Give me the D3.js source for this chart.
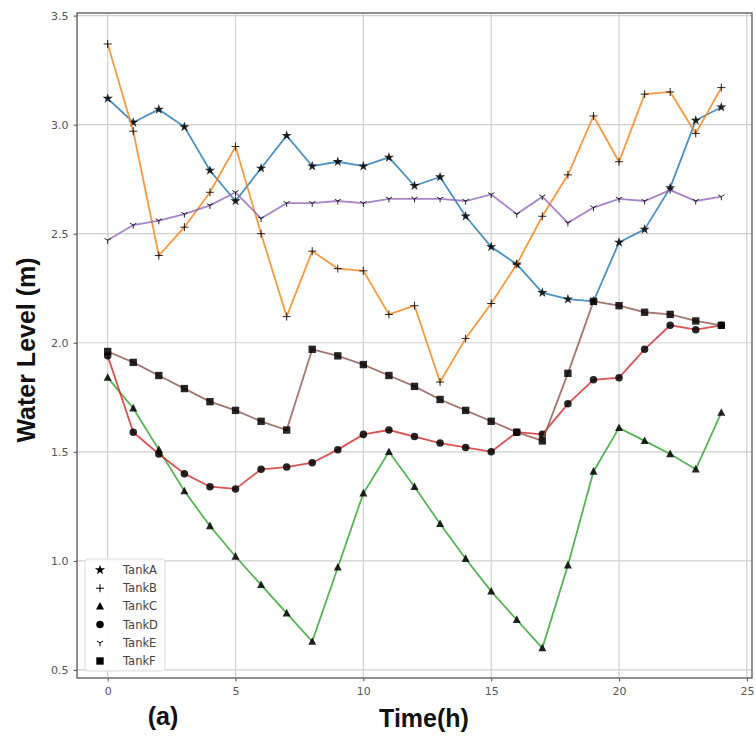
<!DOCTYPE html>
<html>
<head>
<meta charset="utf-8">
<script src="https://cdn.jsdelivr.net/npm/d3@7"></script>
<style>
  html, body { margin: 0; padding: 0; background: #fff; }
  svg { display: block; }
</style>
</head>
<body>
<div id="chart"></div>
<script>
// ---- data ----
const hours = d3.range(0, 25);
const tankA = [3.12,3.01,3.07,2.99,2.79,2.65,2.80,2.95,2.81,2.83,2.81,2.85,2.72,2.76,2.58,2.44,2.36,2.23,2.20,2.19,2.46,2.52,2.71,3.02,3.08];
const tankB = [3.37,2.97,2.40,2.53,2.69,2.90,2.50,2.12,2.42,2.34,2.33,2.13,2.17,1.82,2.02,2.18,2.36,2.58,2.77,3.04,2.83,3.14,3.15,2.96,3.17];
const tankC = [1.84,1.70,1.51,1.32,1.16,1.02,0.89,0.76,0.63,0.97,1.31,1.50,1.34,1.17,1.01,0.86,0.73,0.60,0.98,1.41,1.61,1.55,1.49,1.42,1.68];
const tankD = [1.94,1.59,1.49,1.40,1.34,1.33,1.42,1.43,1.45,1.51,1.58,1.60,1.57,1.54,1.52,1.50,1.59,1.58,1.72,1.83,1.84,1.97,2.08,2.06,2.08];
const tankE = [2.47,2.54,2.56,2.59,2.63,2.69,2.57,2.64,2.64,2.65,2.64,2.66,2.66,2.66,2.65,2.68,2.59,2.67,2.55,2.62,2.66,2.65,2.70,2.65,2.67];
const tankF = [1.96,1.91,1.85,1.79,1.73,1.69,1.64,1.60,1.97,1.94,1.90,1.85,1.80,1.74,1.69,1.64,1.59,1.55,1.86,2.19,2.17,2.14,2.13,2.10,2.08];
const seriesNames = ["TankA","TankB","TankC","TankD","TankE","TankF"];
const xTicks = [0,5,10,15,20,25];
const yTicks = [0.5,1.0,1.5,2.0,2.5,3.0,3.5];

const seriesValues = [tankA, tankB, tankC, tankD, tankE, tankF];
const colors = ["#1f77b4","#ff7f0e","#2ca02c","#d62728","#9467bd","#8c564b"];
const markers = ["star","plus","triangle","circle","tridown","square"];

const W = 756, H = 740;
const m = {left: 77, right: 4, top: 13, bottom: 62};
const svg = d3.select("#chart").append("svg").attr("width", W).attr("height", H);

const x = d3.scaleLinear().domain([-1.2, 25.2]).range([m.left, W - m.right]);
const y = d3.scaleLinear().domain([0.463, 3.512]).range([H - m.bottom, m.top]);

// grid
const g = svg.append("g");
g.selectAll("line.gx").data(xTicks).join("line")
  .attr("x1", d => x(d)).attr("x2", d => x(d))
  .attr("y1", m.top).attr("y2", H - m.bottom)
  .attr("stroke", "#d0d0d0").attr("stroke-width", 1.2);
g.selectAll("line.gy").data(yTicks).join("line")
  .attr("y1", d => y(d)).attr("y2", d => y(d))
  .attr("x1", m.left).attr("x2", W - m.right)
  .attr("stroke", "#d0d0d0").attr("stroke-width", 1.2);

// axes
const xAxis = d3.axisBottom(x).tickValues(xTicks).tickFormat(d3.format("d")).tickSize(3.5).tickPadding(6);
const yAxis = d3.axisLeft(y).tickValues(yTicks).tickFormat(d3.format(".1f")).tickSize(3.5).tickPadding(5);
const gx = svg.append("g").attr("transform", `translate(0,${H - m.bottom})`).call(xAxis);
const gy = svg.append("g").attr("transform", `translate(${m.left},0)`).call(yAxis);
[gx, gy].forEach(a => {
  a.select(".domain").remove();
  a.selectAll("line").attr("stroke", "#555");
  a.selectAll("text").attr("fill", "#555").style("font-family", "DejaVu Sans, sans-serif").style("font-size", "11px");
});

// frame
svg.append("rect")
  .attr("x", m.left).attr("y", m.top)
  .attr("width", W - m.right - m.left).attr("height", H - m.bottom - m.top)
  .attr("fill", "none").attr("stroke", "#555").attr("stroke-width", 1.3);

// marker drawing
function drawMarker(sel, type, size) {
  const s = size;
  if (type === "star") {
    sel.append("path").attr("d", d3.symbol(d3.symbolStar, s * s * 0.5)()).attr("fill", "#000");
  } else if (type === "triangle") {
    sel.append("path").attr("d", `M0,${-s*0.55}L${s*0.5},${s*0.4}L${-s*0.5},${s*0.4}Z`).attr("fill", "#000");
  } else if (type === "circle") {
    sel.append("circle").attr("r", s * 0.47).attr("fill", "#000");
  } else if (type === "square") {
    sel.append("rect").attr("x", -s*0.46).attr("y", -s*0.46).attr("width", s*0.92).attr("height", s*0.92).attr("fill", "#000");
  } else if (type === "plus") {
    sel.append("path").attr("d", `M${-s*0.5},0H${s*0.5}M0,${-s*0.5}V${s*0.5}`).attr("stroke", "#000").attr("stroke-width", 1).attr("fill", "none");
  } else if (type === "tridown") {
    const r = s * 0.45;
    sel.append("path").attr("d", `M0,0V${r}M0,0L${-r*0.87},${-r*0.5}M0,0L${r*0.87},${-r*0.5}`).attr("stroke", "#000").attr("stroke-width", 1).attr("fill", "none");
  }
}

// series
const line = d3.line().x((d, i) => x(hours[i])).y(d => y(d));
seriesValues.forEach((vals, k) => {
  const sg = svg.append("g");
  sg.append("path").datum(vals).attr("d", line)
    .attr("fill", "none").attr("stroke", colors[k]).attr("stroke-opacity", 0.8).attr("stroke-width", 1.8);
  vals.forEach((v, i) => {
    const mg = sg.append("g").attr("transform", `translate(${x(hours[i])},${y(v)})`).attr("opacity", 0.85);
    drawMarker(mg, markers[k], 8);
  });
});

// legend
const lg = svg.append("g");
lg.append("rect").attr("x", 85).attr("y", 559).attr("width", 80).attr("height", 112).attr("rx", 3)
  .attr("fill", "#fff").attr("fill-opacity", 0.85).attr("stroke", "#ddd");
seriesNames.forEach((name, k) => {
  const yy = 570 + k * 18.2;
  const mg = lg.append("g").attr("transform", `translate(100,${yy})`);
  drawMarker(mg, markers[k], 8);
  lg.append("text").attr("x", 123).attr("y", yy).attr("dy", "0.35em")
    .attr("fill", "#444").style("font-family", "DejaVu Sans, sans-serif").style("font-size", "11.5px")
    .text(name);
});

// labels
svg.append("text").attr("transform", "translate(26,350) rotate(-90)")
  .attr("text-anchor", "middle").attr("dy", "0.35em")
  .style("font-family", "Liberation Sans, Arial, sans-serif").style("font-weight", "bold").style("font-size", "25px")
  .attr("fill", "#111").text("Water Level (m)");
svg.append("text").attr("x", 424).attr("y", 727).attr("text-anchor", "middle")
  .style("font-family", "Liberation Sans, Arial, sans-serif").style("font-weight", "bold").style("font-size", "25px")
  .attr("fill", "#111").text("Time(h)");
svg.append("text").attr("x", 163).attr("y", 725).attr("text-anchor", "middle")
  .style("font-family", "Liberation Sans, Arial, sans-serif").style("font-weight", "bold").style("font-size", "25px")
  .attr("fill", "#111").text("(a)");
</script>
</body>
</html>
